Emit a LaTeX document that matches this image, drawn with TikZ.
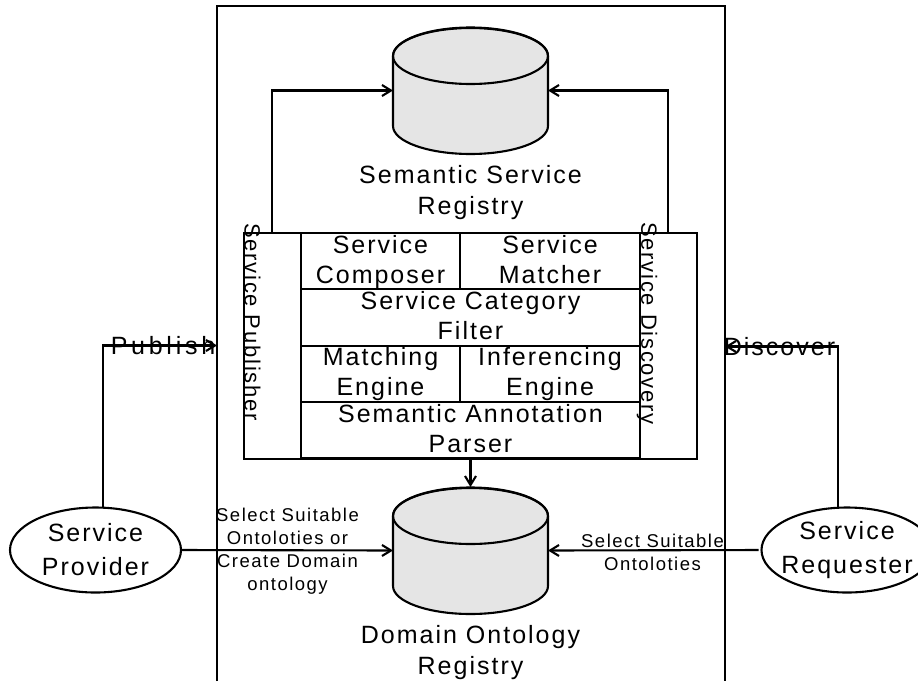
\documentclass[tikz,border=0pt]{standalone}
\usepackage{fontspec}
\setmainfont[LetterSpace=8]{Liberation Sans}
\usepackage{xcolor}
\usetikzlibrary{
	arrows.meta,
	shapes.geometric,
	positioning,
	calc
}
\begin{document}
\begin{tikzpicture}[
			x=1pt, y=-1pt,
			line width=2.1pt,
			every node/.style={outer sep=0pt, inner sep=0pt},
			cell/.style={draw, align=center, minimum height=56.5pt, text height=48pt, text depth=4pt, font=\fontsize{25}{30}\selectfont},
			sidebox/.style={draw, minimum width=57pt, minimum height=226pt},
			sidetxt/.style={rotate=-90, font=\fontsize{22}{25}\selectfont},
			store/.style={minimum width=155pt, minimum height=127pt},
			actor/.style={draw, fill=white, ellipse, minimum width=171pt, minimum height=85pt, inner xsep=-12pt, inner ysep=-8pt, align=center, font=\fontsize{25}{34}\selectfont},
			big/.style={align=center, font=\fontsize{25}{31}\selectfont},
			small/.style={align=center, font=\fontsize{18.5}{23}\selectfont},
			arr/.style={-{Straight Barb[length=9pt, width=11pt]}}
		]
			\useasboundingbox (0,0) rectangle (918,681);
			\draw (217,681) |- (725,6) -- (725,681);
			\coordinate (pubin) at (217,345.5);
			\coordinate (discin) at (725,346.5);
			\coordinate (pubturn) at (103,345.5);
			\coordinate (discturn) at (838,346.5);
			\node[store] (semreg) at (470.5,90.5) {};
			\node[big, below=11pt of semreg] (semlbl) {Semantic Service\\ Registry};
			\node[store] (domreg) at (470.5,550.5) {};
			\node[big, below=11pt of domreg] (domlbl) {Domain Ontology\\ Registry};
			\foreach \reg in {semreg,domreg} {
				\draw[fill=black!10] ($(\reg.north west)+(0,29)$) -- ($(\reg.south west)+(0,-28)$) arc[start angle=180, end angle=360, x radius=77.5pt, y radius=28pt] -- ($(\reg.north east)+(0,29)$) arc[start angle=0, end angle=180, x radius=77.5pt, y radius=28.5pt] -- cycle;
				\draw ($(\reg.north)+(0,29)$) ellipse[x radius=77.5pt, y radius=28pt];
			}
			\node[sidebox] (pub) at (272.4,345.6) {};
			\node[sidebox] (disc) at (668.3,345.6) {};
			\node[sidetxt] (publbl) at (252.5,322) {Service Publisher};
			\node[sidetxt] (disclbl) at (647,323.5) {Service Discovery};
			\node[cell, minimum width=159pt] (comp) at (380.5,261) {Service\\ Composer};
			\node[cell, minimum width=180pt] (match) at (550,261) {Service\\ Matcher};
			\node[cell, minimum width=339pt] (filter) at (470.5,317.3) {Service Category\\ Filter};
			\node[cell, minimum width=159pt] (engine) at (380.5,373.8) {Matching\\ Engine};
			\node[cell, minimum width=180pt] (infer) at (550,373.8) {Inferencing\\ Engine};
			\node[cell, minimum width=339pt] (parser) at (470.5,430.2) {Semantic Annotation\\ Parser};
			\node[actor] (prov) at (95.5,550) {Service\\ Provider};
			\node[actor] (req) at (847,550) {Service\\ Requester};
			\draw[arr] (pub.north) |- (semreg.west);
			\draw[arr] (disc.north) |- (semreg.east);
			\draw[arr] (parser.south) -- (domreg.north);
			\draw[arr] (pubturn |- prov.north) -- (pubturn) -- (pubin);
			\draw[arr] (discturn |- req.north) -- (discturn) -- (discin);
			\draw[arr] (prov.east) -- (domreg.west);
			\draw[arr, shorten <=3pt] (req.west) -- (domreg.east);
			\node[big] (publish) at (163,345.5) {\addfontfeature{LetterSpace=15}Publish};
			\node[big] (discover) at (779.5,346.5) {Discover};
			\node[small] (selcreate) at (287.5,551) {Select Suitable\\ Ontoloties or\\ Create Domain\\ ontology};
			\node[small] (selonto) at (652.5,552) {Select Suitable\\ Ontoloties};
		\end{tikzpicture}
\end{document}
